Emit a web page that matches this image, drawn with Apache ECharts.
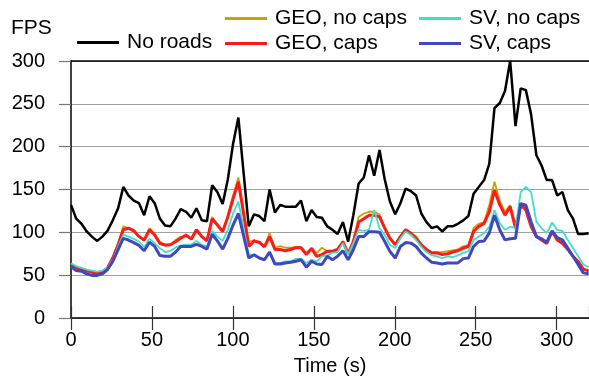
<!DOCTYPE html>
<html><head><meta charset="utf-8">
<script src="https://cdn.jsdelivr.net/npm/echarts@6/dist/echarts.min.js"></script>
<style>html,body{margin:0;padding:0;background:#fff}#c{width:589px;height:381px}</style>
</head><body><div id="c"></div>
<script>
const times = [0,3.2,6.5,9.7,12.9,16.2,19.4,22.6,25.8,29.1,32.3,35.5,38.8,42,45.2,48.5,51.7,54.9,58.1,61.4,64.6,67.8,71.1,74.3,77.5,80.8,84,87.2,90.4,93.7,96.9,100.1,103.4,106.6,109.8,113.1,116.3,119.5,122.7,126,129.2,132.4,135.7,138.9,142.1,145.4,148.6,151.8,155,158.3,161.5,164.7,168,171.2,174.4,177.7,180.9,184.1,187.3,190.6,193.8,197,200.3,203.5,206.7,210,213.2,216.4,219.6,222.9,226.1,229.3,232.6,235.8,239,242.3,245.5,248.7,251.9,255.2,258.4,261.6,264.9,268.1,271.3,274.6,277.8,281,284.2,287.5,290.7,293.9,297.2,300.4,303.6,306.9,310.1,313.3,316.5,319.8];
const noRoads = [132,116,110,101,95,90,95,102,114,128,153,143,137,134,120,142,134,116,108,107,116,127,124,117,128,114,113,155,147,133,162,203,234,170,107,121,119,113,150,123,132,130,130,130,137,113,126,118,117,107,103,98,112,89,120,157,164,190,166,196,162,136,121,134,151,148,143,122,112,105,107,101,107,107,110,114,119,145,153,161,180,245,251,265,300,224,268,266,238,190,178,161,161,143,147,126,116,98,98,99];
const geoNoCaps = [63,60,58,56,54,53,55,59,71,87,107,105,100,95,90,105,98,89,86,86,91,95,95,93,103,96,91,118,109,101,120,143,164,127,89,91,87,84,99,82,84,82,82,83,83,76,82,76,82,78,77,80,90,76,90,118,122,124,124,121,106,94,86,95,103,99,95,86,80,77,77,77,78,79,80,84,85,105,110,112,132,159,137,124,132,108,134,129,108,96,92,88,101,91,87,80,72,66,57,55];
const geoCaps = [62,58.5,57,55,53.5,52,54,58.5,70,85.5,103,105,102,95,91,103,97,87,85,85.5,89,93,97,92,103,95,90,116,108.5,101,118,139,159,122,83.5,90,88.5,83,95,80,80,78.5,80,82,82,74,81,72,74,78,78,80,89,75,89,112,116,120,120,118,105,93,85.5,95,103,99,93,85.5,80,76,76,74,75,77,78.5,81.6,83.5,101,107,110.5,124,149,132,120,130,105,132,126,107,95,91,87,101,91,87,80,72,66,57,55];
const svNoCaps = [64,60.5,58.5,56.6,55.4,54,55.4,58.5,68,83.5,97,95,92.4,89.3,83,92.4,87.4,81.6,77,78.5,82.4,84.7,85.5,85.5,90,85.5,83.5,101.6,95,90,103,122,136,105,74,73,70,68,77,64.3,64.3,66,66,69,69,64.3,68,66,72,73,76,77,87.4,74,87.4,103,101.6,103,126,104.7,97,85.5,81.6,93,101,97,91,83,77,73,72,70,72,71,73,76,78,91,95,99,106.6,126,110.5,103,106.6,104.7,147,153,147,112.4,104.7,99,111.6,102.8,101.6,91,81.6,72,62.4,59.3];
const svCaps = [60.4,55.4,54.7,51.6,49.7,49.7,51.6,56.6,66,79.7,93,91,88,84.7,78.5,88.5,83.5,73,72,72,77,83.5,83.5,83.5,86,83.5,80.4,97.8,90,80.4,93,108.5,122,96,70,73.9,70,68,77,63,63,64.3,65,66.2,68,59.3,66.2,63,62.4,72,68,72,78.5,68,79.7,95,95,100.8,100.8,100,89.3,77.8,70,83.5,88,87.4,83.5,75.8,70,65,64.3,63,64.3,64.3,64.3,69.3,70,83.5,89.3,90,99,120,102.8,91.2,92.4,93.1,133.6,131.6,112.4,95,92.4,88.5,101.6,93.9,91.2,81.6,72,62.4,52.7,51.6];
const xTicks = [0,50,100,150,200,250,300];
const yTicks = [0,50,100,150,200,250,300];
const seriesNames = ['No roads','GEO, no caps','GEO, caps','SV, no caps','SV, caps'];
const seriesColors = ['#000000','#c8a400','#ff1a1a','#3ee0c8','#3f48c0'];

const FONT = '"Liberation Sans", Arial, sans-serif';
const chart = echarts.init(document.getElementById('c'), null, {renderer:'canvas'});
const dataSets = [noRoads, geoNoCaps, geoCaps, svNoCaps, svCaps];
const widths = [2.5, 1.8, 3, 1.8, 3];
const series = dataSets.map((d,k)=>({
  name: seriesNames[k], type:'line', xAxisIndex:0, yAxisIndex:0,
  data: d.map((v,i)=>[times[i], v]),
  showSymbol:false, symbol:'none', clip:false,
  lineStyle:{color:seriesColors[k], width:widths[k]},
  itemStyle:{color:seriesColors[k]}, z: 2+k
}));
function lg(name, left, top){
  return {data:[name], left:left, top:top, padding:0, itemWidth:42, itemHeight:3, icon:'rect',
    textStyle:{fontSize:21, color:'#000', fontFamily:FONT, padding:[0,0,0,3]}};
}
const option = {
  animation:false,
  backgroundColor:'#fff',
  title:{text:'FPS', left:11, top:18, padding:0, textStyle:{fontSize:21, fontWeight:'normal', color:'#000', fontFamily:FONT}},
  legend:[lg(seriesNames[0],77,32), lg(seriesNames[1],225,8), lg(seriesNames[2],225,33), lg(seriesNames[3],419,8), lg(seriesNames[4],419,33)],
  grid:{left:71, top:61, width:520, height:259.7, containLabel:false},
  xAxis:[
    {type:'value', position:'bottom', min:0, max:320, interval:50,
     axisLine:{show:true, lineStyle:{color:'#000', width:1.5}},
     axisTick:{show:true, inside:false, length:12, lineStyle:{color:'#333', width:1.2}},
     axisLabel:{fontSize:20, color:'#000', fontFamily:FONT, margin:12, showMaxLabel:false,
       formatter:(v)=> xTicks.indexOf(v)>=0 ? String(v) : ''},
     splitLine:{show:false},
     name:'Time (s)', nameLocation:'middle', nameGap:38,
     nameTextStyle:{fontSize:20, color:'#000', fontFamily:FONT}},
    {type:'value', position:'bottom', offset:0, min:0, max:320, interval:50,
     axisLine:{show:false}, axisLabel:{show:false}, splitLine:{show:false},
     axisTick:{show:true, inside:true, length:12, lineStyle:{color:'#333', width:1.2}}},
    {type:'value', position:'top', min:0, max:320, interval:50,
     axisLine:{show:true, lineStyle:{color:'#000', width:1.5}},
     axisTick:{show:false}, axisLabel:{show:false}, splitLine:{show:false}}
  ],
  yAxis:{type:'value', min:0, max:300, interval:50,
    axisLine:{show:true, lineStyle:{color:'#000', width:1.5}},
    axisTick:{show:true, inside:false, length:12, lineStyle:{color:'#777', width:1.2}},
    axisLabel:{fontSize:20, color:'#000', fontFamily:FONT, margin:26,
      formatter:(v)=> yTicks.indexOf(v)>=0 ? String(v) : ''},
    splitLine:{show:true, lineStyle:{color:'#a0a0a0', width:1.2}}},
  series: series
};
chart.setOption(option);
</script></body></html>
